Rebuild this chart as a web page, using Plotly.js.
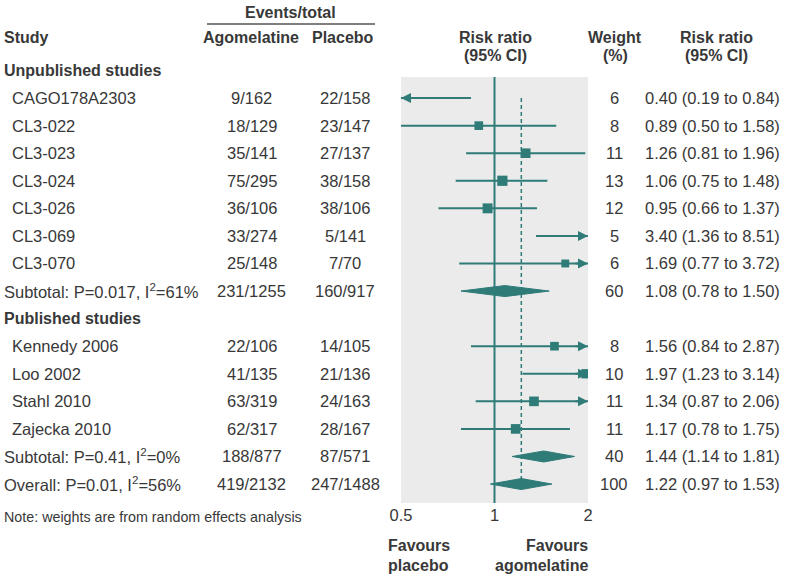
<!DOCTYPE html>
<html><head><meta charset="utf-8">
<script src="https://cdn.plot.ly/plotly-3.0.1.min.js"></script>
<style>html,body{margin:0;padding:0;background:#fff}</style>
</head><body><div id="chart" style="width:790px;height:575px"></div>
<script>
// ---- data ----
const unpubStudies = ['CAGO178A2303','CL3-022','CL3-023','CL3-024','CL3-026','CL3-069','CL3-070'];
const unpubAgoEvents = [9,18,35,75,36,33,25];
const unpubAgoTotal  = [162,129,141,295,106,274,148];
const unpubPlaEvents = [22,23,27,38,38,5,7];
const unpubPlaTotal  = [158,147,137,158,106,141,70];
const unpubRR = [0.40,0.89,1.26,1.06,0.95,3.40,1.69];
const unpubLo = [0.19,0.50,0.81,0.75,0.66,1.36,0.77];
const unpubHi = [0.84,1.58,1.96,1.48,1.37,8.51,3.72];
const unpubWeight = [6,8,11,13,12,5,6];

const pubStudies = ['Kennedy 2006','Loo 2002','Stahl 2010','Zajecka 2010'];
const pubAgoEvents = [22,41,63,62];
const pubAgoTotal  = [106,135,319,317];
const pubPlaEvents = [14,21,24,28];
const pubPlaTotal  = [105,136,163,167];
const pubRR = [1.56,1.97,1.34,1.17];
const pubLo = [0.84,1.23,0.87,0.78];
const pubHi = [2.87,3.14,2.06,1.75];
const pubWeight = [8,10,11,11];

const pooledLabels = ['Subtotal: P=0.017, I<sup>2</sup>=61%','Subtotal: P=0.41, I<sup>2</sup>=0%','Overall: P=0.01, I<sup>2</sup>=56%'];
const pooledAgo = ['231/1255','188/877','419/2132'];
const pooledPla = ['160/917','87/571','247/1488'];
const pooledRR = [1.08,1.44,1.22];
const pooledLo = [0.78,1.14,0.97];
const pooledHi = [1.50,1.81,1.53];
const pooledWeight = [60,40,100];

const tickVals = [0.5,1,2];
const tickText = ['0.5','1','2'];

// ---- layout constants ----
const W = 790, H = 575;
const TEAL = '#2e7b78';
const TXT = '#383838';
const FONT = 'Liberation Sans, Arial, sans-serif';
const FS = 16.5, FSB = 16;
const px = v => v / W;
const py = v => 1 - v / H;
const ROW0 = 70.5, ROWH = 27.57;           // pixel centre of row 0 and row pitch
const rowPy = i => py(ROW0 + ROWH * i);

// build rows
const rows = [];
rows.push({type:'heading', label:'Unpublished studies'});
unpubStudies.forEach((s,i)=>rows.push({type:'study', label:s, ago:unpubAgoEvents[i]+'/'+unpubAgoTotal[i], pla:unpubPlaEvents[i]+'/'+unpubPlaTotal[i], rr:unpubRR[i], lo:unpubLo[i], hi:unpubHi[i], w:unpubWeight[i]}));
rows.push({type:'pooled', label:pooledLabels[0], ago:pooledAgo[0], pla:pooledPla[0], rr:pooledRR[0], lo:pooledLo[0], hi:pooledHi[0], w:pooledWeight[0]});
rows.push({type:'heading', label:'Published studies'});
pubStudies.forEach((s,i)=>rows.push({type:'study', label:s, ago:pubAgoEvents[i]+'/'+pubAgoTotal[i], pla:pubPlaEvents[i]+'/'+pubPlaTotal[i], rr:pubRR[i], lo:pubLo[i], hi:pubHi[i], w:pubWeight[i]}));
rows.push({type:'pooled', label:pooledLabels[1], ago:pooledAgo[1], pla:pooledPla[1], rr:pooledRR[1], lo:pooledLo[1], hi:pooledHi[1], w:pooledWeight[1]});
rows.push({type:'pooled', label:pooledLabels[2], ago:pooledAgo[2], pla:pooledPla[2], rr:pooledRR[2], lo:pooledLo[2], hi:pooledHi[2], w:pooledWeight[2]});

const plotTopPx = 77, plotBotPx = 503;
const yTop = (plotTopPx - ROW0) / ROWH, yBot = (plotBotPx - ROW0) / ROWH;
const xMin = tickVals[0], xMax = tickVals[tickVals.length-1];
const fmt = v => v.toFixed(2);

const traces = [];
// reference line at 1
traces.push({x:[1,1], y:[yTop,yBot], mode:'lines', line:{color:TEAL,width:2}, hoverinfo:'skip', showlegend:false});
// dashed line at overall estimate
const overallIdx = rows.length-1;
const firstStudyIdx = rows.findIndex(r=>r.type==='study');
traces.push({x:[rows[overallIdx].rr, rows[overallIdx].rr], y:[firstStudyIdx, overallIdx], mode:'lines', line:{color:TEAL,width:1.5,dash:'4px,3px'}, hoverinfo:'skip', showlegend:false});

// CI lines, squares, arrowheads for CIs running off the axis
const cx = [], cy = [];
const mx = [], my = [], ms = [];
const annotations = [];
rows.forEach((r,i)=>{
  if (r.type==='study') {
    cx.push(r.lo, r.hi, null); cy.push(i, i, null);
    mx.push(r.rr); my.push(i); ms.push(3 + 2*Math.sqrt(r.w));
    if (r.lo < xMin) annotations.push({x:Math.log10(xMin), y:i, xref:'x', yref:'y', ax:14, ay:0, text:'', showarrow:true, arrowhead:2, arrowsize:1, arrowwidth:2, arrowcolor:TEAL, standoff:0});
    if (r.hi > xMax) annotations.push({x:Math.log10(xMax), y:i, xref:'x', yref:'y', ax:-14, ay:0, text:'', showarrow:true, arrowhead:2, arrowsize:1, arrowwidth:2, arrowcolor:TEAL, standoff:0});
  }
});
traces.push({x:cx, y:cy, mode:'lines', line:{color:TEAL,width:2}, hoverinfo:'skip', showlegend:false, connectgaps:false});
traces.push({x:mx, y:my, mode:'markers', marker:{symbol:'square', color:TEAL, opacity:1, size:ms, line:{width:0}}, hoverinfo:'skip', showlegend:false});
// diamonds
const dh = 0.2;
rows.forEach((r,i)=>{
  if (r.type==='pooled') {
    traces.push({x:[r.lo, r.rr, r.hi, r.rr, r.lo], y:[i, i-dh, i, i+dh, i], mode:'lines', fill:'toself', fillcolor:TEAL, line:{color:TEAL,width:1}, hoverinfo:'skip', showlegend:false});
  }
});

// text annotations (paper coordinates)
const TP = (text, x, yp, opts={}) => {
  const a = Object.assign({text, x:px(x), y:yp, xref:'paper', yref:'paper', showarrow:false, xanchor:'center', yanchor:'middle', font:{family:FONT, size:FS, color:TXT}}, opts);
  if (a.xanchor==='left') a.x = px(x-2);
  if (a.xanchor==='right') a.x = px(x+2);
  return a;
};
const TY = (text, x, yPix, opts={}) => TP(text, x, py(yPix), opts);
const bold = s => '<b>'+s+'</b>';
const BF = {family:FONT, size:FSB, color:TXT};

rows.forEach((r,i)=>{
  const y = rowPy(i);
  if (r.type==='heading') {
    annotations.push(TP(bold(r.label), 4, y, {xanchor:'left', font:BF}));
  } else {
    annotations.push(TP(r.label, r.type==='study'?12:4, y, {xanchor:'left'}));
    annotations.push(TP(r.ago, 252, y));
    annotations.push(TP(r.pla, 345, y));
    annotations.push(TP(String(r.w), 614, y));
    annotations.push(TP(fmt(r.rr)+' ('+fmt(r.lo)+' to '+fmt(r.hi)+')', 645, y, {xanchor:'left'}));
  }
});

// headers
annotations.push(TY(bold('Events/total'), 290, 12, {font:BF}));
annotations.push(TY(bold('Study'), 4, 37, {xanchor:'left', font:BF}));
annotations.push(TY(bold('Agomelatine'), 251, 37, {font:BF}));
annotations.push(TY(bold('Placebo'), 343, 37, {font:BF}));
annotations.push(TY(bold('Risk ratio'), 495, 37, {font:BF}));
annotations.push(TY(bold('(95% CI)'), 495, 56, {font:BF}));
annotations.push(TY(bold('Weight'), 615, 37, {font:BF}));
annotations.push(TY(bold('(%)'), 615, 56, {font:BF}));
annotations.push(TY(bold('Risk ratio'), 716, 37, {font:BF}));
annotations.push(TY(bold('(95% CI)'), 716, 56, {font:BF}));
annotations.push(TY('Note: weights are from random effects analysis', 4, 517, {xanchor:'left', font:{family:FONT, size:14.3, color:TXT}}));
annotations.push(TY(bold('Favours'), 388, 545, {xanchor:'left', font:BF}));
annotations.push(TY(bold('placebo'), 388, 565, {xanchor:'left', font:BF}));
annotations.push(TY(bold('Favours'), 588, 545, {xanchor:'right', font:BF}));
annotations.push(TY(bold('agomelatine'), 588, 565, {xanchor:'right', font:BF}));

const layout = {
  width: W, height: H,
  margin: {l:0, r:0, t:0, b:0},
  paper_bgcolor: '#ffffff',
  plot_bgcolor: '#ebebeb',
  showlegend: false,
  xaxis: {type:'log', domain:[px(401), px(588)], range:[Math.log10(xMin), Math.log10(xMax)], tickvals:tickVals, ticktext:tickText, ticks:'', showgrid:false, zeroline:false, showline:false, tickfont:{family:FONT, size:FS, color:TXT}, fixedrange:true},
  yaxis: {domain:[py(plotBotPx), py(plotTopPx)], range:[yBot, yTop], showticklabels:false, showgrid:false, zeroline:false, showline:false, fixedrange:true},
  shapes: [{type:'line', xref:'paper', yref:'paper', x0:px(207), x1:px(375), y0:py(24), y1:py(24), line:{color:'#555', width:1.5}}],
  annotations
};
Plotly.newPlot('chart', traces, layout, {displayModeBar:false, staticPlot:true});
</script></body></html>
